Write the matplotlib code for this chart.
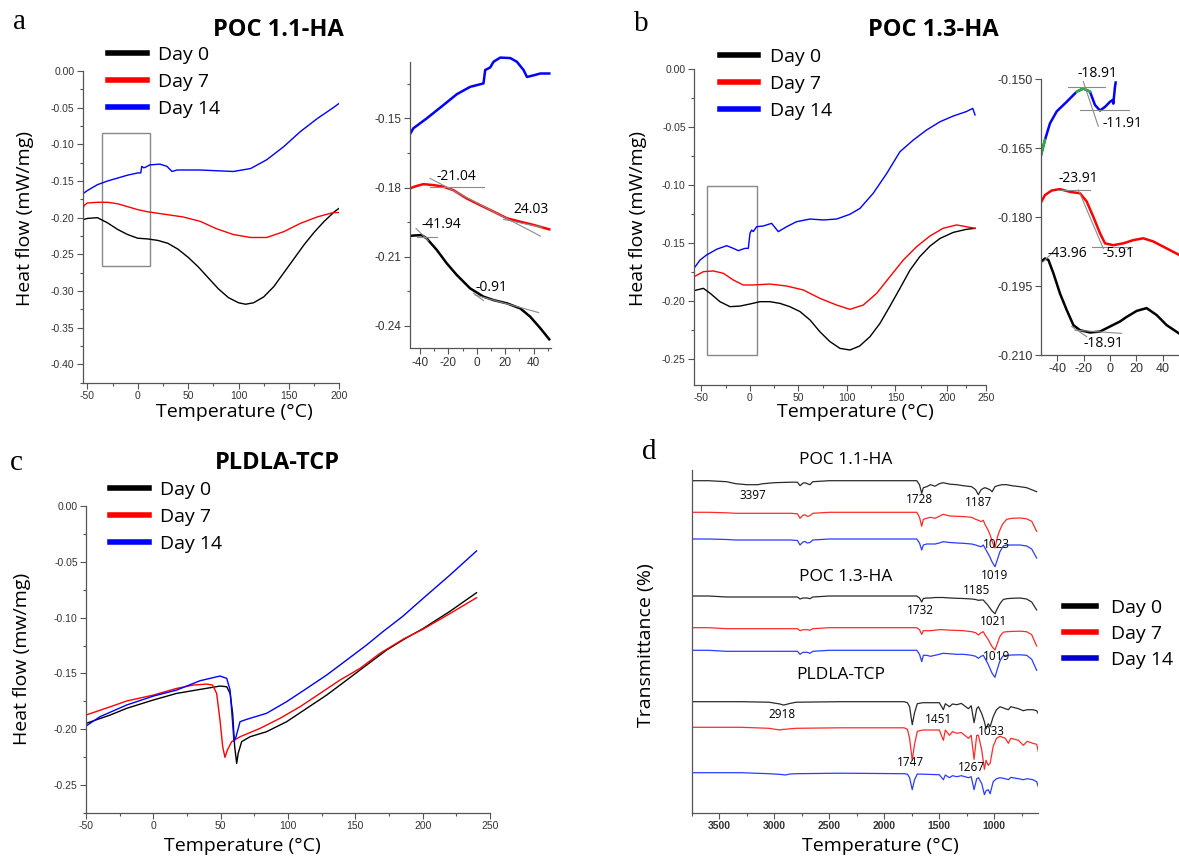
import matplotlib
matplotlib.use("Agg")
import matplotlib.pyplot as plt
from matplotlib.ticker import FormatStrFormatter, MultipleLocator, FixedLocator
from matplotlib.patches import Rectangle

# ======================
# DADOS
# ======================
dias = ["Day 0", "Day 7", "Day 14"]
cores = ["#000000", "#ff0000", "#0000ff"]

# (a) POC 1.1-HA - DSC
a_day0_t = [-55, -50, -40, -30, -20, -10, 0, 10, 20, 30, 40, 50, 60, 70, 80, 90, 100, 107, 115, 125, 135, 145, 155, 165, 175, 185, 195, 200]
a_day0_hf = [-0.203, -0.201, -0.200, -0.207, -0.216, -0.223, -0.228, -0.229, -0.231, -0.235, -0.243, -0.254, -0.267, -0.282, -0.297, -0.309, -0.316, -0.318, -0.316, -0.308, -0.294, -0.275, -0.256, -0.237, -0.220, -0.205, -0.192, -0.187]
a_day7_t = [-55, -53, -50, -40, -30, -20, -10, 0, 10, 20, 30, 45, 62, 78, 95, 112, 128, 145, 161, 178, 194, 200]
a_day7_hf = [-0.190, -0.183, -0.180, -0.179, -0.179, -0.181, -0.185, -0.189, -0.192, -0.194, -0.196, -0.199, -0.205, -0.215, -0.223, -0.227, -0.227, -0.219, -0.208, -0.199, -0.193, -0.193]
a_day14_t = [-55, -50, -40, -30, -20, -10, 0, 3, 4, 6, 8, 12, 22, 29, 34, 39, 50, 62, 78, 95, 112, 128, 145, 161, 178, 194, 200]
a_day14_hf = [-0.168, -0.163, -0.155, -0.150, -0.146, -0.142, -0.139, -0.139, -0.130, -0.132, -0.131, -0.128, -0.127, -0.130, -0.137, -0.135, -0.135, -0.135, -0.136, -0.137, -0.133, -0.121, -0.103, -0.083, -0.065, -0.050, -0.044]

# inset (a)
ia_day0_t = [-47, -45, -38.8, -35.3, -28.2, -21.2, -14.1, -4.7, 4.7, 11.8, 21.2, 30.6, 37.6, 44.7, 51]
ia_day0_hf = [-0.2010, -0.2008, -0.2006, -0.2020, -0.2070, -0.2128, -0.2179, -0.2237, -0.2273, -0.2288, -0.2302, -0.2324, -0.2360, -0.2410, -0.2458]
ia_day7_t = [-47, -42.4, -37.6, -30.6, -23.5, -16.5, -7.1, 2.4, 11.8, 21.2, 30.6, 40, 51]
ia_day7_hf = [-0.1803, -0.1793, -0.1785, -0.1789, -0.1796, -0.1811, -0.1847, -0.1876, -0.1904, -0.1933, -0.1948, -0.1962, -0.1981]
ia_day14_t = [-47, -44.7, -35.3, -23.5, -14.1, -4.7, 4.7, 5.9, 9.4, 11.8, 16.5, 23.5, 28.2, 32.9, 35.3, 40, 44.7, 51]
ia_day14_hf = [-0.1568, -0.1543, -0.1500, -0.1442, -0.1395, -0.1363, -0.1348, -0.1290, -0.1279, -0.1254, -0.1236, -0.1238, -0.1254, -0.1290, -0.1320, -0.1313, -0.1305, -0.1305]
ia_rotulos = ["-21.04", "24.03", "-41.94", "-0.91"]
ia_rot_t = [-14.1, 38, -24.7, 10.6]
ia_rot_hf = [-0.1750, -0.1894, -0.1960, -0.2232]

# (b) POC 1.3-HA - DSC
b_day0_t = [-57.7, -48, -41, -31, -20.6, -10.3, 0, 10.3, 20.6, 31, 41, 51.5, 61.9, 72, 82.5, 92.8, 103, 113, 123.7, 134, 144, 154.6, 165, 175, 185.6, 196, 209.6, 223, 232]
b_day0_hf = [-0.191, -0.189, -0.1933, -0.2005, -0.2048, -0.2043, -0.2025, -0.2005, -0.2005, -0.202, -0.2048, -0.209, -0.2163, -0.2264, -0.235, -0.2408, -0.2422, -0.2388, -0.2307, -0.2192, -0.2048, -0.189, -0.1732, -0.1617, -0.1525, -0.1459, -0.1407, -0.1381, -0.1372]
b_day7_t = [-57.7, -48, -37.8, -27.5, -17.2, -6.9, 3.4, 20.6, 37.8, 55, 72, 89.3, 103, 116.8, 130.6, 144.3, 158, 171.8, 185.6, 199, 213, 223, 232]
b_day7_hf = [-0.179, -0.1746, -0.174, -0.176, -0.1818, -0.1861, -0.1861, -0.1853, -0.187, -0.1904, -0.1976, -0.2034, -0.2071, -0.2034, -0.1933, -0.1789, -0.1646, -0.153, -0.1438, -0.1372, -0.1343, -0.1358, -0.1372]
b_day14_t = [-57.7, -51.5, -44.7, -34.4, -24, -17.2, -12, -5.2, -1.7, 0, 1.7, 3.4, 6.9, 13.7, 22.3, 29.2, 37.8, 48, 61.9, 75.6, 89.3, 103, 113.4, 127, 141, 154.6, 168.4, 182, 196, 209.6, 223, 229.6, 232]
b_day14_hf = [-0.1717, -0.1646, -0.1602, -0.1553, -0.1522, -0.1545, -0.1565, -0.1545, -0.1545, -0.1415, -0.1387, -0.1400, -0.1358, -0.1352, -0.1329, -0.1401, -0.1358, -0.1315, -0.1292, -0.1300, -0.1292, -0.1251, -0.1200, -0.1070, -0.0898, -0.0711, -0.0610, -0.0524, -0.0452, -0.0403, -0.0365, -0.0337, -0.0394]
b_ticks = [-50, 0, 50, 100, 150, 203, 243]
b_ticklabels = ["-50", "0", "50", "100", "150", "200", "250"]

# inset (b)
ib_day0_t = [-52.4, -49.4, -46.8, -43, -38, -32.9, -27.8, -22.8, -15.2, -7.6, 0, 7.6, 12.7, 20.3, 27.8, 35.4, 43, 52.4]
ib_day0_hf = [-0.1897, -0.1890, -0.1893, -0.1922, -0.1966, -0.2002, -0.2035, -0.2046, -0.2051, -0.2049, -0.2038, -0.2027, -0.2017, -0.2004, -0.1998, -0.2013, -0.2035, -0.2053]
ib_day7_t = [-52.4, -49.4, -44.3, -38, -30.4, -22.8, -17.7, -12.7, -7.6, -3.8, 2.5, 10.1, 17.7, 25.3, 32.9, 43, 52.4]
ib_day7_hf = [-0.1768, -0.1752, -0.1742, -0.1739, -0.1745, -0.1748, -0.1766, -0.1799, -0.1835, -0.1857, -0.1861, -0.1857, -0.1850, -0.1846, -0.1853, -0.1868, -0.1882]
ib_day14_t = [-52.4, -49.4, -45.6, -40.5, -32.9, -25.3, -20.3, -15.2, -11.4, -7.6, -3.8, 0, 2, 2.5, 3.8, 4.3]
ib_day14_hf = [-0.1665, -0.1632, -0.1596, -0.1570, -0.1549, -0.1527, -0.1520, -0.1527, -0.1556, -0.1568, -0.1560, -0.1549, -0.1545, -0.1553, -0.1516, -0.1507]
ib_rotulos = ["-18.91", "-11.91", "-23.91", "-5.91", "-43.96", "-18.91"]
ib_rot_t = [-9.6, 9.6, -24, 6.3, -32.4, -5.1]
ib_rot_hf = [-0.1487, -0.1597, -0.1715, -0.1879, -0.1879, -0.2075]

# (c) PLDLA-TCP - DSC
c_day0_t = [-50, -32, -19.8, 0, 17.3, 34.7, 49.5, 54.5, 57, 58.9, 60.4, 61.9, 63, 65.6, 71.8, 84, 99, 113.9, 128.7, 143.6, 158.4, 173.3, 186, 200, 220, 240]
c_day0_hf = [-0.1949, -0.1874, -0.1814, -0.1739, -0.1680, -0.1644, -0.1614, -0.1620, -0.1680, -0.1860, -0.2158, -0.2308, -0.2218, -0.2113, -0.2069, -0.2024, -0.1934, -0.1814, -0.1695, -0.1560, -0.1425, -0.1290, -0.1195, -0.1100, -0.0945, -0.0776]
c_day7_t = [-50, -32, -19.8, 0, 17.3, 29.7, 39.6, 44, 47, 49.5, 51.5, 53.2, 55, 58.2, 64.4, 79.2, 94, 109, 123.8, 138.6, 153.5, 168.3, 186, 200, 220, 240]
c_day7_hf = [-0.1874, -0.1800, -0.1748, -0.1695, -0.1635, -0.1605, -0.1596, -0.1605, -0.1680, -0.1920, -0.2158, -0.2254, -0.2188, -0.2113, -0.2069, -0.1994, -0.1904, -0.1799, -0.1680, -0.1560, -0.1455, -0.1320, -0.1190, -0.1105, -0.0965, -0.0821]
c_day14_t = [-50, -39.6, -19.8, 0, 17.3, 34.7, 49.5, 54.5, 57, 58.9, 59.9, 61.4, 64.4, 69.3, 84, 99, 113.9, 128.7, 143.6, 158.4, 170, 185, 200, 220, 240]
c_day14_hf = [-0.1973, -0.1889, -0.1784, -0.1704, -0.1650, -0.1566, -0.1524, -0.1545, -0.1650, -0.1949, -0.2113, -0.2069, -0.1934, -0.1913, -0.1859, -0.1754, -0.1635, -0.1515, -0.1380, -0.1245, -0.1130, -0.0990, -0.0830, -0.0620, -0.0401]

# (d) FTIR - numero de onda e profundidade abaixo da linha de base (u.a.)
d_poc_wn = [3751, 3600, 3433, 3350, 3250, 3150, 3103, 3000, 2850, 2790,
            2766, 2740, 2721, 2700, 2676, 2650, 2500, 2000, 1705, 1680,
            1660, 1645, 1615, 1580, 1539, 1500, 1466, 1403, 1340, 1282,
            1206, 1170, 1145, 1120, 1100, 1085, 1060, 1040, 1020, 994,
            970, 950, 930, 918, 887, 840, 766, 706, 660, 615]
d11_day0 = [0, 0, 1, 3, 4, 4, 3, 2, 1.5, 1.5,
            5, 2.5, 2, 3, 4, 1, 0, 0, 0, 4,
            12.7, 7, 6, 4, 5.5, 3, 2, 3.5, 4, 5,
            6, 9, 14, 9, 7.7, 7, 8, 9, 11, 6,
            5, 4.5, 4, 4, 4, 5, 6, 7, 9, 11]
d11_day7 = [0, 0, 0.5, 1, 1, 1, 1, 1, 1, 1.5,
            6, 3, 2.5, 4, 3.5, 1, 0, 0, 0, 5,
            14, 7, 6, 5, 6, 4, 2, 3.7, 4, 4.3,
            5, 7, 8, 9.3, 8, 12, 17, 22, 29, 35.7,
            24, 18, 13, 11, 7, 6, 5.7, 6.5, 9, 19]
d11_day14 = [0, 0, 0.5, 1, 1, 1, 1, 1, 1, 1.5,
             6, 3, 2.5, 4, 3.5, 1, 0, 0, 0, 4,
             11, 6, 5, 5, 5, 4, 2.7, 3.5, 4, 4.3,
             5, 6, 7, 7.7, 6, 9, 14, 18, 23, 27.7,
             20, 13, 9, 7, 6, 6, 6, 7, 10, 19]
d13_day0 = [0, 0, 1, 1, 1, 1, 1, 1, 1, 1,
            3, 2, 2, 2, 2.7, 1, 0, 0, 0, 2,
            6, 2.5, 2, 2, 1.5, 1.5, 1.5, 2, 2.3, 2.5,
            3, 3.5, 4.3, 4, 4, 6, 9, 12, 15, 17.7,
            12, 8, 5, 3.5, 2.7, 2.3, 2, 3, 6, 14]
d13_day7 = [0, 0, 1, 1, 1, 1, 1, 1, 1, 1,
            3, 2, 2, 2, 2.5, 1, 0, 0, 0, 2,
            6.7, 3, 3, 3, 2.5, 2, 2, 2.5, 2.7, 3,
            4, 5, 7.3, 5, 4, 7, 11, 15, 19, 22.3,
            15, 9, 6, 4.5, 4, 3.7, 3.5, 4, 7, 18.3]
d13_day14 = [0, 0, 1, 1, 1, 1, 1, 1, 1, 1,
             4, 2, 2, 2, 3, 1, 0, 0, 0, 4,
             11.3, 5, 5, 6, 5, 4, 3, 3.5, 4, 4,
             5, 6, 8, 6, 5, 8, 13, 18, 23, 27,
             18, 11, 7, 5.5, 5, 4.7, 4.5, 5, 9, 20]

d_pl_wn = [3751, 3300, 3050, 2948, 2920, 2900, 2857, 2800, 2400, 1820,
           1790, 1770, 1746, 1725, 1700, 1650, 1500, 1463, 1445, 1408,
           1380, 1341, 1300, 1235, 1210, 1184, 1160, 1144, 1114, 1090,
           1075, 1055, 1038, 1010, 980, 948, 900, 872, 850, 780,
           736, 700, 650, 615, 600]
dpl_day0 = [0, 0, 0.5, 2.3, 3.3, 3, 1.7, 0.5, 0, 0,
            1, 5, 23, 11, 2, 1, 1, 8, 2, 5,
            2.3, 3, 1.7, 7, 4, 21, 7, 5, 12, 20,
            27, 22, 25, 15, 8, 5, 7, 8, 5, 7,
            9, 8, 8, 9, 12]
dpl_day7 = [0, 0, 1, 2.7, 2, 2, 1.5, 1, 0.5, 0.5,
            2, 11, 33, 17, 4, 2.7, 2.7, 13, 2.7, 8,
            4.3, 6, 5.3, 11, 8, 32, 8, 8, 23, 42,
            33, 38, 36, 19, 11, 9, 11, 16, 11, 13,
            18, 14, 16, 17, 24]
dpl_day14 = [0, 0, 1, 1.7, 2, 2.3, 1.3, 1, 0.5, 1,
             1.5, 5, 17, 7, 1.3, 1.5, 2, 7, 2.3, 5,
             3, 4, 3, 5, 4, 17, 6, 5, 11, 22,
             18, 17, 21, 9, 6, 5, 6, 7, 4.7, 6,
             7, 6, 7, 9, 14]

# linhas de base empilhadas (u.a.)
d_base_poc11 = [332, 300.4, 273.7]
d_base_poc13 = [216.7, 185, 162.4]
d_base_pl = [111, 85.4, 40]

d_picos = ["3397", "1728", "1187", "1023", "1019", "1185", "1732", "1021", "1019", "2918", "1451", "1033", "1747", "1267"]
d_picos_wn = [3191, 1676, 1145, 978, 994, 1160, 1676, 1009, 976, 2933, 1509, 1024, 1766, 1206]
d_picos_y = [316.7, 313.4, 310, 267.7, 237, 221.7, 201.7, 191, 156, 97.7, 93.4, 81, 50, 45.4]
d_grupos = ["POC 1.1-HA", "POC 1.3-HA", "PLDLA-TCP"]
d_grupos_wn = [2348, 2348, 2396]
d_grupos_y = [352.7, 236, 137.7]

# ======================
# CONFIGURACAO
# ======================
plt.rcParams['axes.unicode_minus'] = False
plt.rcParams['font.family'] = ['Open Sans', 'DejaVu Sans']

W, H = 1179, 858
fig = plt.figure(figsize=(W / 100, H / 100), dpi=100)


def caixa(l, t, r, b):
    return [l / W, 1 - b / H, (r - l) / W, (b - t) / H]


def estilo(ax, fs=7.5, peso='normal'):
    for s in ['top', 'right']:
        ax.spines[s].set_visible(False)
    for s in ['left', 'bottom']:
        ax.spines[s].set_color('#555555')
        ax.spines[s].set_linewidth(0.9)
    ax.tick_params(which='both', direction='out', color='#555555', labelcolor='#333333',
                   labelsize=fs, width=0.8, pad=2, labelfontfamily='Liberation Sans')
    ax.tick_params(which='major', length=4)
    ax.tick_params(which='minor', length=2.5)
    if peso != 'normal':
        for lab in ax.get_xticklabels():
            lab.set_fontweight(peso)


def legenda(ax, x, y, hl=2.0, tp=0.57, ls=0.47):
    leg = ax.legend(loc='upper left', bbox_to_anchor=(x / W, 1 - y / H), bbox_transform=fig.transFigure,
                    frameon=False, fontsize=14, handlelength=hl, handletextpad=tp, labelspacing=ls,
                    borderpad=0, borderaxespad=0)
    for h in leg.get_lines():
        h.set_linewidth(4)


def letra(x, y, s):
    fig.text(x / W, 1 - y / H, s, fontsize=21, family='Liberation Serif', ha='center', va='center')


def texto(x, y, s, **kw):
    fig.text(x / W, 1 - y / H, s, ha='center', va='center', **kw)


# ======================
# (a)
# ======================
ax = fig.add_axes(caixa(82.7, 71, 339.3, 382.7))
for t, hf, c, d in zip([a_day0_t, a_day7_t, a_day14_t], [a_day0_hf, a_day7_hf, a_day14_hf], cores, dias):
    ax.plot(t, hf, color=c, lw=1.0, label=d)
ax.add_patch(Rectangle((-35.4, -0.266), 47.6, 0.181, fill=False, ec='#888888', lw=1))
ax.set_xlim(-54.6, 200)
ax.set_ylim(-0.425, 0.0)
ax.xaxis.set_major_locator(MultipleLocator(50))
ax.xaxis.set_minor_locator(MultipleLocator(25))
ax.yaxis.set_major_locator(MultipleLocator(0.05))
ax.yaxis.set_minor_locator(MultipleLocator(0.025))
ax.yaxis.set_major_formatter(FormatStrFormatter('%.2f'))
estilo(ax)
legenda(ax, 108, 46)

ax = fig.add_axes(caixa(410, 53.9, 550.7, 348.3))
for t, hf, c in zip([ia_day0_t, ia_day7_t, ia_day14_t], [ia_day0_hf, ia_day7_hf, ia_day14_hf], cores):
    ax.plot(t, hf, color=c, lw=1.8)
for xs, ys in [([-32.9, 5.2], [-0.1796, -0.1796]), ([-32.9, 44.7], [-0.1760, -0.2010]),
               ([18.8, 45.9], [-0.1938, -0.1972]), ([-42.4, -27.8], [-0.2013, -0.2013]),
               ([-42.8, -34.1], [-0.1977, -0.2030]), ([-2.4, 4.7], [-0.2258, -0.2290]),
               ([-1.2, 43.5], [-0.2266, -0.2342])]:
    ax.plot(xs, ys, color='#8a8a8a', lw=0.8)
for s, t, hf in zip(ia_rotulos, ia_rot_t, ia_rot_hf):
    ax.text(t, hf, s, fontsize=10, ha='center', va='center')
ax.set_xlim(-47, 52)
ax.set_ylim(-0.2497, -0.122)
ax.spines['left'].set_bounds(-0.2497, -0.1254)
ax.xaxis.set_major_locator(MultipleLocator(20))
ax.xaxis.set_minor_locator(MultipleLocator(10))
ax.yaxis.set_major_locator(FixedLocator([-0.24, -0.21, -0.18, -0.15]))
ax.yaxis.set_minor_locator(FixedLocator([-0.225, -0.195, -0.165, -0.135]))
ax.yaxis.set_major_formatter(FormatStrFormatter('%.2f'))
estilo(ax, fs=8.5)

# ======================
# (b)
# ======================
ax = fig.add_axes(caixa(694, 69.3, 986, 385))
for t, hf, c, d in zip([b_day0_t, b_day7_t, b_day14_t], [b_day0_hf, b_day7_hf, b_day14_hf], cores, dias):
    ax.plot(t, hf, color=c, lw=1.0, label=d)
ax.add_patch(Rectangle((-44, -0.2466), 51.6, 0.1462, fill=False, ec='#888888', lw=1))
ax.set_xlim(-57.7, 243.3)
ax.set_ylim(-0.2724, 0.0)
ax.xaxis.set_major_locator(FixedLocator(b_ticks))
ax.set_xticklabels(b_ticklabels)
ax.xaxis.set_minor_locator(FixedLocator([-25, 25, 75, 125, 176, 223]))
ax.yaxis.set_major_locator(MultipleLocator(0.05))
ax.yaxis.set_minor_locator(MultipleLocator(0.025))
ax.yaxis.set_major_formatter(FormatStrFormatter('%.2f'))
estilo(ax)
legenda(ax, 720, 48, hl=1.95, tp=0.6)

ax = fig.add_axes(caixa(1041, 77, 1179, 355))
for t, hf, c in zip([ib_day0_t, ib_day7_t, ib_day14_t], [ib_day0_hf, ib_day7_hf, ib_day14_hf], cores):
    ax.plot(t, hf, color=c, lw=1.8)
ax.plot(ib_day14_t[5:8], ib_day14_hf[5:8], color='#2bb32b', lw=1.8)
ax.plot(ib_day14_t[:2], ib_day14_hf[:2], color='#2bb32b', lw=1.8)
for xs, ys in [([-31.6, -3.8], [-0.1516, -0.1516]), ([-22.8, 14.4], [-0.1567, -0.1567]),
               ([-20.3, -8.9], [-0.1505, -0.1602]), ([-40.5, -15.2], [-0.1741, -0.1741]),
               ([-24, -5.1], [-0.1741, -0.1868]), ([-13.9, 16.5], [-0.1864, -0.1864]),
               ([-50.6, -44.3], [-0.1897, -0.1879]), ([-26.6, 8.9], [-0.2046, -0.2053]),
               ([-29.1, -17.7], [-0.2038, -0.2060])]:
    ax.plot(xs, ys, color='#8a8a8a', lw=0.8)
for s, t, hf in zip(ib_rotulos, ib_rot_t, ib_rot_hf):
    ax.text(t, hf, s, fontsize=10, ha='center', va='center', clip_on=False)
ax.set_xlim(-52.4, 52.4)
ax.set_ylim(-0.210, -0.1495)
ax.spines['left'].set_bounds(-0.210, -0.150)
ax.xaxis.set_major_locator(MultipleLocator(20))
ax.yaxis.set_major_locator(FixedLocator([-0.210, -0.195, -0.180, -0.165, -0.150]))
ax.yaxis.set_major_formatter(FormatStrFormatter('%.3f'))
estilo(ax, fs=9)

# ======================
# (c)
# ======================
ax = fig.add_axes(caixa(86, 506.3, 490, 812.7))
for t, hf, c, d in zip([c_day0_t, c_day7_t, c_day14_t], [c_day0_hf, c_day7_hf, c_day14_hf], cores, dias):
    ax.plot(t, hf, color=c, lw=1.0, label=d)
ax.set_xlim(-50, 250)
ax.set_ylim(-0.2751, 0.0)
ax.xaxis.set_major_locator(MultipleLocator(50))
ax.xaxis.set_minor_locator(MultipleLocator(25))
ax.yaxis.set_major_locator(MultipleLocator(0.05))
ax.yaxis.set_minor_locator(MultipleLocator(0.025))
ax.yaxis.set_major_formatter(FormatStrFormatter('%.2f'))
estilo(ax)
legenda(ax, 110, 481)

# ======================
# (d)
# ======================
ax = fig.add_axes(caixa(691.7, 470, 1038.3, 812.7))
cores_d = ['#2a2a2a', '#ff2a2a', '#2a3cff']
for wn, curvas, bases in [(d_poc_wn, [d11_day0, d11_day7, d11_day14], d_base_poc11),
                          (d_poc_wn, [d13_day0, d13_day7, d13_day14], d_base_poc13),
                          (d_pl_wn, [dpl_day0, dpl_day7, dpl_day14], d_base_pl)]:
    for prof, base, c in zip(curvas, bases, cores_d):
        ax.plot(wn, [base - p for p in prof], color=c, lw=0.9)
for d, c in zip(dias, ['#000000', '#ff0000', '#0000cc']):
    ax.plot([], [], color=c, label=d)
for s, wn, y in zip(d_picos, d_picos_wn, d_picos_y):
    ax.text(wn, y, s, fontsize=8.5, ha='center', va='center')
for s, wn, y in zip(d_grupos, d_grupos_wn, d_grupos_y):
    ax.text(wn, y, s, fontsize=12.5, ha='center', va='center', clip_on=False)
ax.set_xlim(3751, 600)
ax.set_ylim(0, 342.7)
ax.set_yticks([])
ax.xaxis.set_major_locator(MultipleLocator(500))
ax.xaxis.set_minor_locator(MultipleLocator(250))
estilo(ax, fs=7.5, peso='bold')
legenda(ax, 1064, 599, hl=1.65, tp=0.75, ls=0.4)

# ======================
# TEXTOS
# ======================
letra(20, 22, "a")
letra(641, 24, "b")
letra(16, 463, "c")
letra(649, 452, "d")
texto(278, 30, "POC 1.1-HA", fontsize=17, fontweight='bold')
texto(933, 30, "POC 1.3-HA", fontsize=17, fontweight='bold')
texto(277, 463, "PLDLA-TCP", fontsize=17, fontweight='bold')
texto(25, 218, "Heat flow (mW/mg)", fontsize=14, rotation=90)
texto(638, 218, "Heat flow (mW/mg)", fontsize=14, rotation=90)
texto(22, 659, "Heat flow (mw/mg)", fontsize=14, rotation=90)
texto(646, 645, "Transmittance (%)", fontsize=14, rotation=90)
texto(234, 412, "Temperature (°C)", fontsize=14)
texto(855, 412, "Temperature (°C)", fontsize=14)
texto(242, 846, "Temperature (°C)", fontsize=14)
texto(880, 846, "Temperature (°C)", fontsize=14)

fig.savefig("out.png", dpi=100)
